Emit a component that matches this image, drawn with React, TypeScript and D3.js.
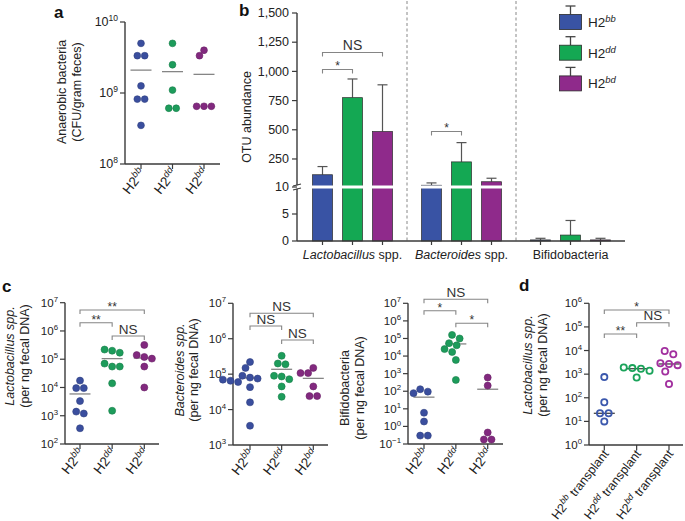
import React from 'react';
import * as d3 from 'd3';

const FONT = '"Liberation Sans", Arial, Helvetica, sans-serif';
const DOT = ['#3a4e9e', '#1d9c5b', '#82297f'];
const BAR = ['#3953a4', '#14a853', '#8f2a8b'];
const OPEN = ['#3b58ad', '#1aa35a', '#a2309f'];
const AXIS = '#3a3a3a';
const GREY = '#858585';

const genotypes = ['bb', 'dd', 'bd'];

// Panel a: anaerobic bacteria (CFU/gram feces)
const anaerobicBB = [5.0e9, 3.35e9, 3.35e9, 1.26e9, 8.2e8, 8.2e8, 3.5e8];
const anaerobicDD = [5.0e9, 2.5e9, 1.1e9, 6.1e8, 6.1e8];
const anaerobicBD = [4.0e9, 3.35e9, 6.5e8, 6.5e8, 6.5e8];
const anaerobicMeans = [2.1e9, 2.0e9, 1.83e9];

// Panel b: OTU abundance
const otuGroups = ['Lactobacillus', 'Bacteroides', 'Bifidobacteria'];
const otuMeanBB = [115, 25, 0.2];
const otuMeanDD = [775, 225, 1.1];
const otuMeanBD = [485, 55, 0.2];
const otuErrBB = [70, 20, 0.3];
const otuErrDD = [160, 165, 2.7];
const otuErrBD = [400, 30, 0.3];
const otuTicks = [0, 5, 10, 250, 500, 750, 1000, 1250, 1500];

// Panel c1: Lactobacillus spp.
const lactoBB = [1.75e4, 9.5e3, 9.5e3, 3.3e3, 1.4e3, 1.2e3, 3.6e2];
const lactoDD = [2.2e5, 1.7e5, 2.0e5, 7e4, 5.5e4, 5.5e4, 1.4e4, 1.5e3];
const lactoBD = [3.2e5, 1.4e5, 1.2e5, 1.05e5, 5.5e4, 1.0e4];
const lactoMeans = [5.9e3, 1.05e5, 1.1e5];

// Panel c2: Bacteroides spp.
const bactBB = [2.2e5, 1.5e5, 9e4, 8e4, 7.5e4, 7e4, 6.5e4, 6e4, 4.3e4, 1.6e4, 3.5e3];
const bactDD = [3.3e5, 2.0e5, 1.9e5, 9e4, 8.6e4, 7.2e4, 4.5e4, 2.3e4];
const bactBD = [1.5e5, 1.07e5, 1.07e5, 4.5e4, 2.4e4, 2.4e4];
const bactMeans = [7.8e4, 1.37e5, 7.6e4];

// Panel c3: Bifidobacteria
const bifBB = [130, 95, 78, 6, 1.9, 0.3, 0.3];
const bifDD = [1.6e5, 1.0e5, 5.4e4, 4.1e4, 2.5e4, 1.7e4, 6e3, 4.4e2];
const bifBD = [600, 210, 0.45, 0.18, 0.18];
const bifMeans = [46, 4.9e4, 130];

// Panel d: Lactobacillus after transplant
const transBB = [7.5e2, 65, 22, 22, 10];
const transDD = [1.9e3, 1.8e3, 1.7e3, 1.4e3, 7.2e2];
const transBD = [9.5e3, 7e3, 2.9e3, 2.7e3, 2.4e3, 1.3e3, 3.8e2];
const transMedians = [22, 1.7e3, 2.7e3];

function swarm(ys: number[], r: number): number[] {
  const idx = ys.map((_, i) => i).sort((a, b) => ys[a] - ys[b]);
  const rows: number[][] = [];
  for (const i of idx) {
    const row = rows[rows.length - 1];
    if (row && ys[i] - ys[row[0]] < r * 1.1) row.push(i);
    else rows.push([i]);
  }
  const xs = new Array(ys.length).fill(0);
  const placed: number[] = [];
  const d = 2 * r + 0.6;
  for (const row of rows) {
    const n = row.length;
    const base = row.map((_, k) => (k - (n - 1) / 2) * d);
    let shift = 0;
    for (let s = 0; s < 60; s++) {
      const cand = (s % 2 === 0 ? 1 : -1) * Math.ceil(s / 2) * 0.75;
      const ok = row.every((i, k) =>
        placed.every((j) => Math.hypot(base[k] + cand - xs[j], ys[i] - ys[j]) >= 2 * r + 0.2)
      );
      if (ok) {
        shift = cand;
        break;
      }
    }
    row.forEach((i, k) => {
      xs[i] = base[k] + shift;
      placed.push(i);
    });
  }
  return xs;
}

function GenoLabel({ g, suffix }: { g: string; suffix?: string }) {
  return (
    <>
      H2
      <tspan dy={-5} fontSize="0.7em" fontStyle="italic">
        {g}
      </tspan>
      {suffix ? <tspan dy={5}>{suffix}</tspan> : null}
    </>
  );
}

type Bracket = { from: number; to: number; y: number; label: string };

interface LogPanelProps {
  axisX: number;
  axisEnd: number;
  yRange: [number, number];
  domain: [number, number];
  catRange: [number, number];
  series: number[][];
  centers: number[];
  colors: string[];
  open?: boolean;
  r: number;
  brackets: Bracket[];
  ylabel: string[];
  ylabelItalic: boolean[];
  ylabelX: number[];
  ylabelY: number;
  tickFont: number;
  suffix?: string;
  labelFont: number;
}

function LogPanel(p: LogPanelProps) {
  const y = d3.scaleLog().domain(p.domain).range(p.yRange);
  const x = d3.scalePoint<string>().domain(genotypes).range(p.catRange);
  const e0 = Math.round(Math.log10(p.domain[0]));
  const e1 = Math.round(Math.log10(p.domain[1]));
  const exps = d3.range(e0, e1 + 1);
  const base = p.yRange[0];
  return (
    <g fontFamily={FONT}>
      {p.brackets.map((b, i) => {
        const xa = x(genotypes[b.from])!;
        const xb = x(genotypes[b.to])!;
        return (
          <g key={'br' + i}>
            <path
              d={`M${xa},${b.y + 4}V${b.y}H${xb}V${b.y + 4}`}
              fill="none"
              stroke={GREY}
              strokeWidth={1.1}
            />
            <text
              x={(xa + xb) / 2}
              y={b.label === 'NS' ? b.y - 2.5 : b.y + 1}
              textAnchor="middle"
              fontSize={b.label === 'NS' ? 13.5 : 12}
              fill="#333"
            >
              {b.label}
            </text>
          </g>
        );
      })}
      <line x1={p.axisX} x2={p.axisX} y1={p.yRange[1]} y2={base} stroke={AXIS} strokeWidth={1.4} />
      <line x1={p.axisX} x2={p.axisEnd} y1={base} y2={base} stroke={AXIS} strokeWidth={1.4} />
      {exps.map((e) => (
        <g key={'t' + e}>
          <line x1={p.axisX - 5} x2={p.axisX} y1={y(10 ** e)} y2={y(10 ** e)} stroke={AXIS} strokeWidth={1.2} />
          <text x={p.axisX - 7} y={y(10 ** e) + p.tickFont * 0.35} textAnchor="end" fontSize={p.tickFont} fill="#222">
            10
            <tspan dy={-p.tickFont * 0.42} fontSize={p.tickFont * 0.68}>
              {e < 0 ? '\u2212' + Math.abs(e) : e}
            </tspan>
          </text>
        </g>
      ))}
      {genotypes.map((g) => (
        <g key={'x' + g}>
          <line x1={x(g)} x2={x(g)} y1={base} y2={base + 5} stroke={AXIS} strokeWidth={1.2} />
          <text
            transform={`translate(${x(g)! + 5},${base + 9}) rotate(-52)`}
            textAnchor="end"
            fontSize={p.labelFont}
            fill="#222"
          >
            <GenoLabel g={g} suffix={p.suffix} />
          </text>
        </g>
      ))}
      {p.ylabel.map((t, i) => (
        <text
          key={'yl' + i}
          transform={`translate(${p.ylabelX[i]},${p.ylabelY}) rotate(-90)`}
          textAnchor="middle"
          fontSize={12.5}
          fontStyle={p.ylabelItalic[i] ? 'italic' : 'normal'}
          fill="#222"
        >
          {t}
        </text>
      ))}
      {p.centers.map((m, i) => (
        <line
          key={'m' + i}
          x1={x(genotypes[i])! - 10.5}
          x2={x(genotypes[i])! + 10.5}
          y1={y(m)}
          y2={y(m)}
          stroke={p.open ? '#444' : GREY}
          strokeWidth={1.3}
        />
      ))}
      {p.series.map((vals, si) => {
        const ys = vals.map((v) => y(v));
        const offs = swarm(ys, p.r + (p.open ? 0.9 : 0));
        return vals.map((v, k) => (
          <circle
            key={`p${si}-${k}`}
            cx={x(genotypes[si])! + offs[k]}
            cy={ys[k]}
            r={p.r}
            fill={p.open ? 'white' : p.colors[si]}
            fillOpacity={p.open ? 0 : 1}
            stroke={p.open ? p.colors[si] : d3.color(p.colors[si])!.darker(0.6).toString()}
            strokeWidth={p.open ? 1.8 : 0.6}
          />
        ));
      })}
    </g>
  );
}

function PanelB() {
  const y = d3.scaleLinear().domain([0, 10, 1500]).range([241, 187, 13]);
  const gx = d3.scaleBand<string>().domain(otuGroups).range([298, 625]);
  const bx = d3.scaleBand<string>().domain(genotypes).range([-45, 45]);
  const means = [otuMeanBB, otuMeanDD, otuMeanBD];
  const errs = [otuErrBB, otuErrDD, otuErrBD];
  const fmt = d3.format(',');
  const center = (gi: number, k: number) =>
    gx(otuGroups[gi])! + gx.bandwidth() / 2 + bx(genotypes[k])! + bx.bandwidth() / 2;
  const bw = 20;
  const brackets = [
    { g: 0, from: 0, to: 1, y: 69.5, label: '*' },
    { g: 0, from: 0, to: 2, y: 52.5, label: 'NS' },
    { g: 1, from: 0, to: 1, y: 131.5, label: '*' },
  ];
  return (
    <g fontFamily={FONT}>
      {otuGroups.slice(1).map((gname) => (
        <line
          key={'sep' + gname}
          x1={gx(gname)}
          x2={gx(gname)}
          y1={1}
          y2={241}
          stroke="#888"
          strokeWidth={1}
          strokeDasharray="3,2.5"
        />
      ))}
      {otuGroups.map((gname, gi) =>
        genotypes.map((g, k) => {
          const cx = center(gi, k);
          const m = means[k][gi];
          const top = m + errs[k][gi];
          return (
            <g key={gname + g}>
              <line x1={cx} x2={cx} y1={y(m)} y2={y(top)} stroke="#555" strokeWidth={1.2} />
              <line x1={cx - 5} x2={cx + 5} y1={y(top)} y2={y(top)} stroke="#555" strokeWidth={1.2} />
              <rect
                x={cx - bw / 2}
                y={y(m)}
                width={bw}
                height={y(0) - y(m)}
                fill={BAR[k]}
                stroke="#2a2a2a"
                strokeWidth={0.7}
              />
              {m > 10 ? <rect x={cx - bw / 2 - 1} y={185.5} width={bw + 2} height={3} fill="white" /> : null}
            </g>
          );
        })
      )}
      {brackets.map((b, i) => {
        const xa = center(b.g, b.from);
        const xb = center(b.g, b.to);
        return (
          <g key={'bb' + i}>
            <path d={`M${xa},${b.y + 4}V${b.y}H${xb}V${b.y + 4}`} fill="none" stroke={GREY} strokeWidth={1.1} />
            <text
              x={(xa + xb) / 2}
              y={b.label === 'NS' ? b.y - 3 : b.y + 0.5}
              textAnchor="middle"
              fontSize={b.label === 'NS' ? 14 : 12}
              fill="#333"
            >
              {b.label}
            </text>
          </g>
        );
      })}
      <line x1={297} x2={297} y1={13} y2={241} stroke={AXIS} strokeWidth={1.4} />
      <line x1={297} x2={625} y1={241} y2={241} stroke={AXIS} strokeWidth={1.4} />
      <rect x={293} y={185.3} width={8} height={3.4} fill="white" />
      <line x1={293} x2={301} y1={186} y2={184} stroke={AXIS} strokeWidth={1.1} />
      <line x1={293} x2={301} y1={190} y2={188} stroke={AXIS} strokeWidth={1.1} />
      {otuTicks.map((t) => (
        <g key={'yt' + t}>
          <line x1={292} x2={297} y1={y(t)} y2={y(t)} stroke={AXIS} strokeWidth={1.2} />
          <text x={289} y={y(t) + 4.3} textAnchor="end" fontSize={12.5} fill="#222">
            {fmt(t)}
          </text>
        </g>
      ))}
      {otuGroups.map((gname, gi) =>
        genotypes.map((g, k) => (
          <line
            key={'xt' + gname + g}
            x1={center(gi, k)}
            x2={center(gi, k)}
            y1={241}
            y2={245}
            stroke={AXIS}
            strokeWidth={1.2}
          />
        ))
      )}
      {otuGroups.map((gname, gi) => (
        <text
          key={'gl' + gname}
          x={gx(gname)! + gx.bandwidth() / 2}
          y={259}
          textAnchor="middle"
          fontSize={12.5}
          fill="#222"
        >
          {gi < 2 ? (
            <>
              <tspan fontStyle="italic">{gname}</tspan> spp.
            </>
          ) : (
            gname
          )}
        </text>
      ))}
      <text transform="translate(251,117) rotate(-90)" textAnchor="middle" fontSize={12.5} fill="#222">
        OTU abundance
      </text>
      {genotypes.map((g, k) => {
        const ly = 14.5 + k * 30.7;
        return (
          <g key={'lg' + g}>
            <line x1={570.5} x2={570.5} y1={ly} y2={ly - 8.5} stroke="#444" strokeWidth={1.3} />
            <line x1={565.5} x2={575.5} y1={ly - 8.5} y2={ly - 8.5} stroke="#444" strokeWidth={1.3} />
            <rect x={559.5} y={ly} width={22} height={15} fill={BAR[k]} stroke="#2a2a2a" strokeWidth={0.8} />
            <text x={588} y={ly + 12.5} fontSize={13.5} fill="#222">
              <GenoLabel g={g} />
            </text>
          </g>
        );
      })}
    </g>
  );
}

export default function App() {
  return (
    <svg
      width={685}
      height={521}
      style={{ position: 'absolute', left: 0, top: 0, background: 'white' }}
      fontFamily={FONT}
    >
      <rect width={685} height={521} fill="white" />
      <text x={54} y={17.5} fontSize={17} fontWeight="bold" fill="#111">a</text>
      <text x={239} y={16} fontSize={17} fontWeight="bold" fill="#111">b</text>
      <text x={2} y={292} fontSize={17} fontWeight="bold" fill="#111">c</text>
      <text x={519} y={291} fontSize={17} fontWeight="bold" fill="#111">d</text>

      <LogPanel
        axisX={125}
        axisEnd={220}
        yRange={[164, 22]}
        domain={[1e8, 1e10]}
        catRange={[141, 204]}
        series={[anaerobicBB, anaerobicDD, anaerobicBD]}
        centers={anaerobicMeans}
        colors={DOT}
        r={3.4}
        brackets={[]}
        ylabel={['Anaerobic bacteria', '(CFU/gram feces)']}
        ylabelItalic={[false, false]}
        ylabelX={[66, 81]}
        ylabelY={92}
        tickFont={12.5}
        labelFont={13.5}
      />
      <PanelB />
      <LogPanel
        axisX={65}
        axisEnd={159}
        yRange={[444, 302.7]}
        domain={[1e2, 1e7]}
        catRange={[80, 144.3]}
        series={[lactoBB, lactoDD, lactoBD]}
        centers={lactoMeans}
        colors={DOT}
        r={3.5}
        brackets={[
          { from: 0, to: 2, y: 310, label: '**' },
          { from: 0, to: 1, y: 322.7, label: '**' },
          { from: 1, to: 2, y: 336, label: 'NS' },
        ]}
        ylabel={['Lactobacillus spp.', '(per ng fecal DNA)']}
        ylabelItalic={[true, false]}
        ylabelX={[14, 29]}
        ylabelY={356}
        tickFont={11.5}
        labelFont={13.5}
      />
      <LogPanel
        axisX={233}
        axisEnd={328}
        yRange={[445, 303.3]}
        domain={[1e3, 1e7]}
        catRange={[250, 313.3]}
        series={[bactBB, bactDD, bactBD]}
        centers={bactMeans}
        colors={DOT}
        r={3.5}
        brackets={[
          { from: 0, to: 2, y: 313.3, label: 'NS' },
          { from: 0, to: 1, y: 326, label: 'NS' },
          { from: 1, to: 2, y: 340, label: 'NS' },
        ]}
        ylabel={['Bacteroides spp.', '(per ng fecal DNA)']}
        ylabelItalic={[true, false]}
        ylabelX={[184, 198]}
        ylabelY={370}
        tickFont={11.5}
        labelFont={13.5}
      />
      <LogPanel
        axisX={408}
        axisEnd={503}
        yRange={[444, 303.3]}
        domain={[1e-1, 1e7]}
        catRange={[424, 487.7]}
        series={[bifBB, bifDD, bifBD]}
        centers={bifMeans}
        colors={DOT}
        r={3.5}
        brackets={[
          { from: 0, to: 2, y: 299.3, label: 'NS' },
          { from: 0, to: 1, y: 310.7, label: '*' },
          { from: 1, to: 2, y: 323.3, label: '*' },
        ]}
        ylabel={['Bifidobacteria', '(per ng fecal DNA)']}
        ylabelItalic={[false, false]}
        ylabelX={[349, 364]}
        ylabelY={388}
        tickFont={11.5}
        labelFont={13.5}
      />
      <LogPanel
        axisX={589}
        axisEnd={683}
        yRange={[445, 303.3]}
        domain={[1e0, 1e6]}
        catRange={[604.3, 669]}
        series={[transBB, transDD, transBD]}
        centers={transMedians}
        colors={OPEN}
        open
        r={3.1}
        brackets={[
          { from: 0, to: 2, y: 310, label: '*' },
          { from: 1, to: 2, y: 322.7, label: 'NS' },
          { from: 0, to: 1, y: 334, label: '**' },
        ]}
        ylabel={['Lactobacillus spp.', '(per ng fecal DNA)']}
        ylabelItalic={[true, false]}
        ylabelX={[532, 547]}
        ylabelY={365}
        tickFont={11.5}
        labelFont={12.5}
        suffix=" transplant"
      />
    </svg>
  );
}
